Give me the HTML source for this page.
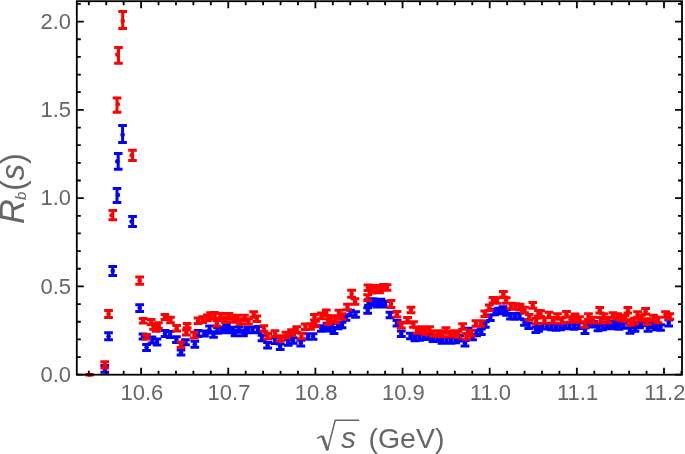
<!DOCTYPE html>
<html><head><meta charset="utf-8"><title>R_b(s)</title>
<style>html,body{margin:0;padding:0;background:#fff;overflow:hidden}svg{display:block}</style></head>
<body><svg width="685" height="454" viewBox="0 0 685 454">
<g fill="#0000ff"><path d="M104.8 365.5V372.3M100.4 365.5H109.1M100.4 372.3H109.1M108.6 332.8V339.7M104.2 332.8H112.9M104.2 339.7H112.9M112.7 266.4V275.4M108.4 266.4H117.0M108.4 275.4H117.0M117.0 188.6V202.5M112.7 188.6H121.3M112.7 202.5H121.3M118.2 153.6V169.3M113.9 153.6H122.5M113.9 169.3H122.5M122.6 125.5V142.6M118.2 125.5H126.9M118.2 142.6H126.9M132.6 216.4V226.6M128.2 216.4H136.9M128.2 226.6H136.9M139.7 304.7V311.6M135.3 304.7H144.0M135.3 311.6H144.0M143.0 334.0V339.0M138.7 334.0H147.3M138.7 339.0H147.3M146.6 344.4V350.4M142.2 344.4H150.9M142.2 350.4H150.9M152.0 337.0V343.0M147.7 337.0H156.3M147.7 343.0H156.3M157.0 339.0V345.0M152.7 339.0H161.3M152.7 345.0H161.3M165.0 330.5V336.5M160.7 330.5H169.3M160.7 336.5H169.3M170.0 331.5V337.5M165.7 331.5H174.3M165.7 337.5H174.3M176.4 336.8V342.4M172.1 336.8H180.8M172.1 342.4H180.8M181.0 350.0V355.0M176.7 350.0H185.3M176.7 355.0H185.3M185.5 339.7V344.7M181.2 339.7H189.8M181.2 344.7H189.8M194.8 341.3V347.3M190.5 341.3H199.2M190.5 347.3H199.2M198.0 330.6V336.6M193.7 330.6H202.3M193.7 336.6H202.3M204.4 331.0V336.0M200.1 331.0H208.8M200.1 336.0H208.8M209.5 326.1V333.1M205.2 326.1H213.8M205.2 333.1H213.8M213.5 331.7V337.3M209.2 331.7H217.8M209.2 337.3H217.8M217.5 327.7V333.3M213.2 327.7H221.8M213.2 333.3H221.8M222.0 327.2V332.8M217.7 327.2H226.3M217.7 332.8H226.3M226.5 324.7V330.3M222.2 324.7H230.8M222.2 330.3H230.8M230.5 327.2V332.8M226.2 327.2H234.8M226.2 332.8H234.8M235.0 330.2V335.8M230.7 330.2H239.3M230.7 335.8H239.3M239.0 326.7V332.3M234.7 326.7H243.3M234.7 332.3H243.3M243.5 330.2V335.8M239.2 330.2H247.8M239.2 335.8H247.8M248.0 327.2V332.8M243.7 327.2H252.3M243.7 332.8H252.3M252.5 327.2V332.8M248.2 327.2H256.9M248.2 332.8H256.9M258.0 326.6V332.2M253.7 326.6H262.4M253.7 332.2H262.4M262.0 335.2V340.8M257.6 335.2H266.4M257.6 340.8H266.4M267.6 342.5V348.1M263.2 342.5H272.0M263.2 348.1H272.0M275.0 338.0V343.6M270.6 338.0H279.4M270.6 343.6H279.4M280.2 344.0V349.6M275.8 344.0H284.6M275.8 349.6H284.6M288.2 339.7V345.3M283.8 339.7H292.6M283.8 345.3H292.6M293.0 337.7V343.3M288.6 337.7H297.4M288.6 343.3H297.4M300.8 340.3V345.9M296.4 340.3H305.2M296.4 345.9H305.2M308.0 333.7V339.3M303.6 333.7H312.4M303.6 339.3H312.4M313.0 333.7V339.3M308.6 333.7H317.4M308.6 339.3H317.4M321.4 325.7V331.3M317.0 325.7H325.8M317.0 331.3H325.8M327.0 323.2V328.8M322.6 323.2H331.4M322.6 328.8H331.4M330.0 325.0V331.0M325.6 325.0H334.4M325.6 331.0H334.4M334.0 327.5V333.5M329.6 327.5H338.4M329.6 333.5H338.4M338.0 323.2V328.8M333.6 323.2H342.4M333.6 328.8H342.4M342.0 322.2V327.8M337.6 322.2H346.4M337.6 327.8H346.4M346.0 314.7V320.3M341.6 314.7H350.4M341.6 320.3H350.4M350.5 310.2V315.8M346.1 310.2H354.9M346.1 315.8H354.9M355.5 311.7V317.3M351.1 311.7H359.9M351.1 317.3H359.9M367.7 307.7V313.3M363.3 307.7H372.1M363.3 313.3H372.1M368.5 299.7V305.3M364.1 299.7H372.9M364.1 305.3H372.9M373.0 298.7V304.3M368.6 298.7H377.4M368.6 304.3H377.4M377.0 301.5V307.1M372.6 301.5H381.4M372.6 307.1H381.4M381.0 299.2V304.8M376.6 299.2H385.4M376.6 304.8H385.4M385.0 301.5V307.1M380.6 301.5H389.4M380.6 307.1H389.4M390.0 312.2V317.8M385.6 312.2H394.4M385.6 317.8H394.4M397.0 320.4V326.0M392.6 320.4H401.4M392.6 326.0H401.4M401.3 331.0V336.6M396.9 331.0H405.7M396.9 336.6H405.7M410.5 333.2V338.8M406.1 333.2H414.9M406.1 338.8H414.9M415.0 335.2V340.8M410.6 335.2H419.4M410.6 340.8H419.4M419.5 334.7V340.3M415.1 334.7H423.9M415.1 340.3H423.9M424.0 333.8V339.4M419.6 333.8H428.4M419.6 339.4H428.4M428.5 333.2V338.8M424.1 333.2H432.9M424.1 338.8H432.9M433.0 336.0V341.6M428.6 336.0H437.4M428.6 341.6H437.4M437.5 335.2V340.8M433.1 335.2H441.9M433.1 340.8H441.9M442.0 337.7V343.3M437.6 337.7H446.4M437.6 343.3H446.4M446.5 337.2V342.8M442.1 337.2H450.9M442.1 342.8H450.9M451.0 337.7V343.3M446.6 337.7H455.4M446.6 343.3H455.4M455.5 337.2V342.8M451.1 337.2H459.9M451.1 342.8H459.9M459.5 335.5V341.1M455.1 335.5H463.9M455.1 341.1H463.9M465.0 340.4V346.0M460.6 340.4H469.4M460.6 346.0H469.4M468.0 328.2V333.8M463.6 328.2H472.4M463.6 333.8H472.4M472.5 334.2V339.8M468.1 334.2H476.9M468.1 339.8H476.9M476.5 330.2V335.8M472.1 330.2H480.9M472.1 335.8H480.9M481.3 328.9V334.5M476.9 328.9H485.7M476.9 334.5H485.7M485.3 321.7V327.3M480.9 321.7H489.7M480.9 327.3H489.7M490.3 315.0V320.6M485.9 315.0H494.7M485.9 320.6H494.7M494.5 309.2V314.8M490.1 309.2H498.9M490.1 314.8H498.9M498.5 308.2V313.8M494.1 308.2H502.9M494.1 313.8H502.9M503.0 306.7V312.3M498.6 306.7H507.4M498.6 312.3H507.4M506.5 309.7V315.3M502.1 309.7H510.9M502.1 315.3H510.9M510.5 313.5V319.1M506.1 313.5H514.9M506.1 319.1H514.9M515.0 313.7V319.3M510.6 313.7H519.4M510.6 319.3H519.4M519.5 313.2V318.8M515.1 313.2H523.9M515.1 318.8H523.9M524.5 319.7V325.3M520.1 319.7H528.9M520.1 325.3H528.9M528.7 322.9V328.5M524.4 322.9H533.1M524.4 328.5H533.1M535.9 326.9V332.5M531.5 326.9H540.2M531.5 332.5H540.2M538.5 325.7V331.3M534.1 325.7H542.9M534.1 331.3H542.9M542.5 323.4V329.0M538.1 323.4H546.9M538.1 329.0H546.9M547.0 323.5V329.1M542.6 323.5H551.4M542.6 329.1H551.4M551.5 324.2V329.8M547.1 324.2H555.9M547.1 329.8H555.9M556.0 324.7V330.3M551.6 324.7H560.4M551.6 330.3H560.4M560.5 324.2V329.8M556.1 324.2H564.9M556.1 329.8H564.9M565.0 322.7V328.3M560.6 322.7H569.4M560.6 328.3H569.4M569.5 323.2V328.8M565.1 323.2H573.9M565.1 328.8H573.9M574.0 323.7V329.3M569.6 323.7H578.4M569.6 329.3H578.4M578.5 322.9V328.5M574.1 322.9H582.9M574.1 328.5H582.9M585.0 327.9V333.5M580.6 327.9H589.4M580.6 333.5H589.4M589.0 321.1V326.7M584.6 321.1H593.4M584.6 326.7H593.4M593.5 321.4V327.0M589.1 321.4H597.9M589.1 327.0H597.9M598.0 325.2V330.8M593.6 325.2H602.4M593.6 330.8H602.4M602.5 324.2V329.8M598.1 324.2H606.9M598.1 329.8H606.9M607.0 322.3V327.9M602.6 322.3H611.4M602.6 327.9H611.4M611.0 323.2V328.8M606.6 323.2H615.4M606.6 328.8H615.4M614.5 321.2V326.8M610.1 321.2H618.9M610.1 326.8H618.9M619.0 323.7V329.3M614.6 323.7H623.4M614.6 329.3H623.4M623.5 322.7V328.3M619.1 322.7H627.9M619.1 328.3H627.9M630.0 327.7V333.3M625.6 327.7H634.4M625.6 333.3H634.4M635.0 325.7V331.3M630.6 325.7H639.4M630.6 331.3H639.4M639.5 322.2V327.8M635.1 322.2H643.9M635.1 327.8H643.9M643.5 320.2V325.8M639.1 320.2H647.9M639.1 325.8H647.9M648.0 325.7V331.3M643.6 325.7H652.4M643.6 331.3H652.4M652.5 322.2V327.8M648.1 322.2H656.9M648.1 327.8H656.9M656.5 324.2V329.8M652.1 324.2H660.9M652.1 329.8H660.9M660.5 324.7V330.3M656.1 324.7H664.9M656.1 330.3H664.9M668.7 320.1V325.9M664.4 320.1H673.1M664.4 325.9H673.1" stroke="#0000ff" stroke-width="3" fill="none"/><circle cx="104.8" cy="368.9" r="2.3"/><circle cx="108.6" cy="336.2" r="2.3"/><circle cx="112.7" cy="270.9" r="2.3"/><circle cx="117.9" cy="195.1" r="2.3"/><circle cx="117.3" cy="161.4" r="2.3"/><circle cx="122.6" cy="134.7" r="2.3"/><circle cx="131.6" cy="221.5" r="2.3"/><circle cx="139.7" cy="308.1" r="2.3"/><circle cx="143.0" cy="336.5" r="2.3"/><circle cx="146.6" cy="347.4" r="2.3"/><circle cx="152.0" cy="340.0" r="2.3"/><circle cx="157.0" cy="342.0" r="2.3"/><circle cx="165.0" cy="333.5" r="2.3"/><circle cx="170.0" cy="334.5" r="2.3"/><circle cx="176.4" cy="339.6" r="2.3"/><circle cx="181.0" cy="352.5" r="2.3"/><circle cx="185.5" cy="342.2" r="2.3"/><circle cx="194.8" cy="344.3" r="2.3"/><circle cx="198.0" cy="333.6" r="2.3"/><circle cx="204.4" cy="333.5" r="2.3"/><circle cx="209.5" cy="329.6" r="2.3"/><circle cx="213.5" cy="334.5" r="2.3"/><circle cx="217.5" cy="330.5" r="2.3"/><circle cx="222.0" cy="330.0" r="2.3"/><circle cx="226.5" cy="327.5" r="2.3"/><circle cx="230.5" cy="330.0" r="2.3"/><circle cx="235.0" cy="333.0" r="2.3"/><circle cx="239.0" cy="329.5" r="2.3"/><circle cx="243.5" cy="333.0" r="2.3"/><circle cx="248.0" cy="330.0" r="2.3"/><circle cx="252.5" cy="330.0" r="2.3"/><circle cx="258.0" cy="329.4" r="2.3"/><circle cx="262.0" cy="338.0" r="2.3"/><circle cx="267.6" cy="345.3" r="2.3"/><circle cx="275.0" cy="340.8" r="2.3"/><circle cx="280.2" cy="346.8" r="2.3"/><circle cx="288.2" cy="342.5" r="2.3"/><circle cx="293.0" cy="340.5" r="2.3"/><circle cx="300.8" cy="343.1" r="2.3"/><circle cx="308.0" cy="336.5" r="2.3"/><circle cx="313.0" cy="336.5" r="2.3"/><circle cx="321.4" cy="328.5" r="2.3"/><circle cx="327.0" cy="326.0" r="2.3"/><circle cx="330.0" cy="328.0" r="2.3"/><circle cx="334.0" cy="330.5" r="2.3"/><circle cx="338.0" cy="326.0" r="2.3"/><circle cx="342.0" cy="325.0" r="2.3"/><circle cx="346.0" cy="317.5" r="2.3"/><circle cx="350.5" cy="313.0" r="2.3"/><circle cx="355.5" cy="314.5" r="2.3"/><circle cx="367.7" cy="310.5" r="2.3"/><circle cx="368.5" cy="302.5" r="2.3"/><circle cx="373.0" cy="301.5" r="2.3"/><circle cx="377.0" cy="304.3" r="2.3"/><circle cx="381.0" cy="302.0" r="2.3"/><circle cx="385.0" cy="304.3" r="2.3"/><circle cx="390.0" cy="315.0" r="2.3"/><circle cx="397.0" cy="323.2" r="2.3"/><circle cx="401.3" cy="333.8" r="2.3"/><circle cx="410.5" cy="336.0" r="2.3"/><circle cx="415.0" cy="338.0" r="2.3"/><circle cx="419.5" cy="337.5" r="2.3"/><circle cx="424.0" cy="336.6" r="2.3"/><circle cx="428.5" cy="336.0" r="2.3"/><circle cx="433.0" cy="338.8" r="2.3"/><circle cx="437.5" cy="338.0" r="2.3"/><circle cx="442.0" cy="340.5" r="2.3"/><circle cx="446.5" cy="340.0" r="2.3"/><circle cx="451.0" cy="340.5" r="2.3"/><circle cx="455.5" cy="340.0" r="2.3"/><circle cx="459.5" cy="338.3" r="2.3"/><circle cx="465.0" cy="343.2" r="2.3"/><circle cx="468.0" cy="331.0" r="2.3"/><circle cx="472.5" cy="337.0" r="2.3"/><circle cx="476.5" cy="333.0" r="2.3"/><circle cx="481.3" cy="331.7" r="2.3"/><circle cx="485.3" cy="324.5" r="2.3"/><circle cx="490.3" cy="317.8" r="2.3"/><circle cx="494.5" cy="312.0" r="2.3"/><circle cx="498.5" cy="311.0" r="2.3"/><circle cx="503.0" cy="309.5" r="2.3"/><circle cx="506.5" cy="312.5" r="2.3"/><circle cx="510.5" cy="316.3" r="2.3"/><circle cx="515.0" cy="316.5" r="2.3"/><circle cx="519.5" cy="316.0" r="2.3"/><circle cx="524.5" cy="322.5" r="2.3"/><circle cx="528.7" cy="325.7" r="2.3"/><circle cx="535.9" cy="329.7" r="2.3"/><circle cx="538.5" cy="328.5" r="2.3"/><circle cx="542.5" cy="326.2" r="2.3"/><circle cx="547.0" cy="326.3" r="2.3"/><circle cx="551.5" cy="327.0" r="2.3"/><circle cx="556.0" cy="327.5" r="2.3"/><circle cx="560.5" cy="327.0" r="2.3"/><circle cx="565.0" cy="325.5" r="2.3"/><circle cx="569.5" cy="326.0" r="2.3"/><circle cx="574.0" cy="326.5" r="2.3"/><circle cx="578.5" cy="325.7" r="2.3"/><circle cx="585.0" cy="330.7" r="2.3"/><circle cx="589.0" cy="323.9" r="2.3"/><circle cx="593.5" cy="324.2" r="2.3"/><circle cx="598.0" cy="328.0" r="2.3"/><circle cx="602.5" cy="327.0" r="2.3"/><circle cx="607.0" cy="325.1" r="2.3"/><circle cx="611.0" cy="326.0" r="2.3"/><circle cx="614.5" cy="324.0" r="2.3"/><circle cx="619.0" cy="326.5" r="2.3"/><circle cx="623.5" cy="325.5" r="2.3"/><circle cx="630.0" cy="330.5" r="2.3"/><circle cx="635.0" cy="328.5" r="2.3"/><circle cx="639.5" cy="325.0" r="2.3"/><circle cx="643.5" cy="323.0" r="2.3"/><circle cx="648.0" cy="328.5" r="2.3"/><circle cx="652.5" cy="325.0" r="2.3"/><circle cx="656.5" cy="327.0" r="2.3"/><circle cx="660.5" cy="327.5" r="2.3"/><circle cx="668.7" cy="323.0" r="2.3"/></g>
<g fill="#ff0000"><path d="M89.5 374.5V375.1M85.2 374.5H93.8M85.2 375.1H93.8M104.8 361.8V368.0M100.4 361.8H109.1M100.4 368.0H109.1M108.6 310.5V317.4M104.2 310.5H112.9M104.2 317.4H112.9M112.8 210.6V219.8M108.5 210.6H117.1M108.5 219.8H117.1M117.0 98.1V112.3M112.7 98.1H121.4M112.7 112.3H121.4M118.5 47.5V63.3M114.2 47.5H122.8M114.2 63.3H122.8M122.7 11.4V28.5M118.3 11.4H127.0M118.3 28.5H127.0M132.5 150.2V160.4M128.2 150.2H136.8M128.2 160.4H136.8M139.7 277.1V284.3M135.3 277.1H144.0M135.3 284.3H144.0M143.2 318.5V323.1M138.8 318.5H147.5M138.8 323.1H147.5M146.6 334.4V339.0M142.2 334.4H150.9M142.2 339.0H150.9M151.2 319.5V324.5M146.8 319.5H155.5M146.8 324.5H155.5M153.5 323.7V329.3M149.2 323.7H157.8M149.2 329.3H157.8M156.3 325.7V331.3M152.0 325.7H160.7M152.0 331.3H160.7M158.5 322.7V328.3M154.2 322.7H162.8M154.2 328.3H162.8M164.9 314.5V319.5M160.6 314.5H169.2M160.6 319.5H169.2M170.5 317.2V322.8M166.2 317.2H174.8M166.2 322.8H174.8M176.7 325.4V331.0M172.3 325.4H181.0M172.3 331.0H181.0M181.0 342.0V347.6M176.7 342.0H185.3M176.7 347.6H185.3M186.3 330.0V335.0M182.0 330.0H190.7M182.0 335.0H190.7M187.2 323.4V327.8M182.8 323.4H191.5M182.8 327.8H191.5M194.4 332.3V337.9M190.1 332.3H198.8M190.1 337.9H198.8M198.0 318.0V323.6M193.7 318.0H202.3M193.7 323.6H202.3M202.7 316.8V322.4M198.3 316.8H207.0M198.3 322.4H207.0M207.3 315.1V320.7M203.0 315.1H211.7M203.0 320.7H211.7M210.5 312.8V318.4M206.2 312.8H214.8M206.2 318.4H214.8M214.5 312.5V318.1M210.2 312.5H218.8M210.2 318.1H218.8M216.8 320.5V326.1M212.5 320.5H221.2M212.5 326.1H221.2M220.5 313.5V319.1M216.2 313.5H224.8M216.2 319.1H224.8M225.0 316.7V322.3M220.7 316.7H229.3M220.7 322.3H229.3M229.0 313.5V319.1M224.7 313.5H233.3M224.7 319.1H233.3M233.5 316.7V322.3M229.2 316.7H237.8M229.2 322.3H237.8M237.0 315.2V320.8M232.7 315.2H241.3M232.7 320.8H241.3M240.5 318.7V324.3M236.2 318.7H244.8M236.2 324.3H244.8M244.5 315.2V320.8M240.2 315.2H248.8M240.2 320.8H248.8M248.5 318.7V324.3M244.2 318.7H252.8M244.2 324.3H252.8M253.7 311.7V317.3M249.3 311.7H258.1M249.3 317.3H258.1M256.8 316.0V321.6M252.5 316.0H261.2M252.5 321.6H261.2M263.9 325.7V331.3M259.5 325.7H268.2M259.5 331.3H268.2M267.6 333.4V339.0M263.2 333.4H272.0M263.2 339.0H272.0M275.0 330.8V336.4M270.6 330.8H279.4M270.6 336.4H279.4M280.2 335.7V341.3M275.8 335.7H284.6M275.8 341.3H284.6M286.0 332.3V337.9M281.6 332.3H290.4M281.6 337.9H290.4M291.6 329.7V335.3M287.2 329.7H296.0M287.2 335.3H296.0M296.8 326.8V332.4M292.4 326.8H301.2M292.4 332.4H301.2M301.4 333.2V338.8M297.0 333.2H305.8M297.0 338.8H305.8M305.4 324.0V329.6M301.0 324.0H309.8M301.0 329.6H309.8M310.5 323.7V329.3M306.1 323.7H314.9M306.1 329.3H314.9M314.5 314.5V320.1M310.1 314.5H318.9M310.1 320.1H318.9M315.5 321.2V326.8M311.1 321.2H319.9M311.1 326.8H319.9M321.4 313.1V318.7M317.0 313.1H325.8M317.0 318.7H325.8M326.3 310.0V315.6M321.9 310.0H330.7M321.9 315.6H330.7M328.0 318.7V324.3M323.6 318.7H332.4M323.6 324.3H332.4M331.0 315.7V321.3M326.6 315.7H335.4M326.6 321.3H335.4M335.5 317.2V322.8M331.1 317.2H339.9M331.1 322.8H339.9M339.0 310.2V315.8M334.6 310.2H343.4M334.6 315.8H343.4M342.0 313.7V319.3M337.6 313.7H346.4M337.6 319.3H346.4M347.5 304.2V309.8M343.1 304.2H351.9M343.1 309.8H351.9M351.6 290.2V297.2M347.2 290.2H356.0M347.2 297.2H356.0M355.0 298.7V304.3M350.6 298.7H359.4M350.6 304.3H359.4M367.7 294.7V300.5M363.3 294.7H372.1M363.3 300.5H372.1M368.0 285.0V290.6M363.6 285.0H372.4M363.6 290.6H372.4M372.0 287.5V293.1M367.6 287.5H376.4M367.6 293.1H376.4M376.5 285.4V291.0M372.1 285.4H380.9M372.1 291.0H380.9M379.5 287.2V292.8M375.1 287.2H383.9M375.1 292.8H383.9M383.5 284.5V290.1M379.1 284.5H387.9M379.1 290.1H387.9M387.0 284.7V290.3M382.6 284.7H391.4M382.6 290.3H391.4M391.0 300.4V307.4M386.6 300.4H395.4M386.6 307.4H395.4M397.0 311.5V317.1M392.6 311.5H401.4M392.6 317.1H401.4M401.3 322.3V327.9M396.9 322.3H405.7M396.9 327.9H405.7M407.6 317.5V323.1M403.2 317.5H412.0M403.2 323.1H412.0M411.0 307.2V312.8M406.6 307.2H415.4M406.6 312.8H415.4M413.5 321.7V327.3M409.1 321.7H417.9M409.1 327.3H417.9M417.0 327.7V333.3M412.6 327.7H421.4M412.6 333.3H421.4M421.0 326.7V332.3M416.6 326.7H425.4M416.6 332.3H425.4M425.0 328.7V334.3M420.6 328.7H429.4M420.6 334.3H429.4M429.5 326.7V332.3M425.1 326.7H433.9M425.1 332.3H433.9M433.5 330.7V336.3M429.1 330.7H437.9M429.1 336.3H437.9M438.0 330.7V336.3M433.6 330.7H442.4M433.6 336.3H442.4M442.0 331.2V336.8M437.6 331.2H446.4M437.6 336.8H446.4M446.0 327.7V333.3M441.6 327.7H450.4M441.6 333.3H450.4M450.5 331.2V336.8M446.1 331.2H454.9M446.1 336.8H454.9M454.5 330.7V336.3M450.1 330.7H458.9M450.1 336.3H458.9M458.0 331.7V337.3M453.6 331.7H462.4M453.6 337.3H462.4M462.6 323.7V329.3M458.2 323.7H467.0M458.2 329.3H467.0M466.5 333.7V339.3M462.1 333.7H470.9M462.1 339.3H470.9M471.0 330.5V336.1M466.6 330.5H475.4M466.6 336.1H475.4M476.0 320.7V326.3M471.6 320.7H480.4M471.6 326.3H480.4M481.0 320.7V326.3M476.6 320.7H485.4M476.6 326.3H485.4M484.8 310.9V316.5M480.4 310.9H489.2M480.4 316.5H489.2M489.3 304.9V310.5M484.9 304.9H493.7M484.9 310.5H493.7M493.0 297.5V303.1M488.6 297.5H497.4M488.6 303.1H497.4M497.0 297.7V303.3M492.6 297.7H501.4M492.6 303.3H501.4M503.4 291.5V297.1M499.0 291.5H507.8M499.0 297.1H507.8M506.2 297.7V303.3M501.8 297.7H510.6M501.8 303.3H510.6M511.0 303.2V308.8M506.6 303.2H515.4M506.6 308.8H515.4M515.5 303.7V309.3M511.1 303.7H519.9M511.1 309.3H519.9M520.0 304.2V309.8M515.6 304.2H524.4M515.6 309.8H524.4M524.5 307.2V312.8M520.1 307.2H528.9M520.1 312.8H528.9M529.3 314.5V320.1M524.9 314.5H533.6M524.9 320.1H533.6M532.7 302.6V308.2M528.4 302.6H537.1M528.4 308.2H537.1M536.2 318.2V323.8M531.9 318.2H540.6M531.9 323.8H540.6M538.5 310.5V316.1M534.1 310.5H542.9M534.1 316.1H542.9M540.5 310.8V316.4M536.1 310.8H544.9M536.1 316.4H544.9M544.5 317.7V323.3M540.1 317.7H548.9M540.1 323.3H548.9M549.0 312.2V317.8M544.6 312.2H553.4M544.6 317.8H553.4M553.0 317.5V323.1M548.6 317.5H557.4M548.6 323.1H557.4M557.5 313.7V319.3M553.1 313.7H561.9M553.1 319.3H561.9M562.0 317.7V323.3M557.6 317.7H566.4M557.6 323.3H566.4M566.5 311.4V317.0M562.1 311.4H570.9M562.1 317.0H570.9M570.5 316.7V322.3M566.1 316.7H574.9M566.1 322.3H574.9M575.0 314.0V319.6M570.6 314.0H579.4M570.6 319.6H579.4M579.5 316.7V322.3M575.1 316.7H583.9M575.1 322.3H583.9M584.8 321.7V327.3M580.4 321.7H589.1M580.4 327.3H589.1M588.5 313.7V319.3M584.1 313.7H592.9M584.1 319.3H592.9M593.0 317.2V322.8M588.6 317.2H597.4M588.6 322.8H597.4M599.7 307.4V313.0M595.4 307.4H604.1M595.4 313.0H604.1M600.8 317.5V323.1M596.4 317.5H605.1M596.4 323.1H605.1M603.5 313.7V319.3M599.1 313.7H607.9M599.1 319.3H607.9M608.0 317.2V322.8M603.6 317.2H612.4M603.6 322.8H612.4M613.0 312.7V318.3M608.6 312.7H617.4M608.6 318.3H617.4M617.5 313.7V319.3M613.1 313.7H621.9M613.1 319.3H621.9M621.0 315.2V320.8M616.6 315.2H625.4M616.6 320.8H625.4M625.0 315.7V321.3M620.6 315.7H629.4M620.6 321.3H629.4M627.9 307.4V313.0M623.5 307.4H632.2M623.5 313.0H632.2M630.5 319.7V325.3M626.1 319.7H634.9M626.1 325.3H634.9M634.5 318.2V323.8M630.1 318.2H638.9M630.1 323.8H638.9M637.6 311.7V317.3M633.2 311.7H642.0M633.2 317.3H642.0M645.6 308.5V314.1M641.2 308.5H650.0M641.2 314.1H650.0M647.4 318.8V324.4M643.0 318.8H651.8M643.0 324.4H651.8M641.5 315.2V320.8M637.1 315.2H645.9M637.1 320.8H645.9M653.5 315.2V320.8M649.1 315.2H657.9M649.1 320.8H657.9M658.0 317.2V322.8M653.6 317.2H662.4M653.6 322.8H662.4M665.6 311.7V317.3M661.2 311.7H670.0M661.2 317.3H670.0M669.7 313.7V319.3M665.4 313.7H674.1M665.4 319.3H674.1" stroke="#ff0000" stroke-width="3" fill="none"/><circle cx="89.5" cy="374.8" r="2.3"/><circle cx="104.8" cy="364.9" r="2.3"/><circle cx="108.6" cy="313.9" r="2.3"/><circle cx="111.6" cy="215.2" r="2.3"/><circle cx="117.8" cy="104.3" r="2.3"/><circle cx="117.4" cy="54.6" r="2.3"/><circle cx="122.7" cy="20.9" r="2.3"/><circle cx="131.7" cy="155.3" r="2.3"/><circle cx="139.7" cy="280.7" r="2.3"/><circle cx="143.2" cy="320.8" r="2.3"/><circle cx="146.6" cy="336.7" r="2.3"/><circle cx="151.2" cy="322.0" r="2.3"/><circle cx="153.5" cy="326.5" r="2.3"/><circle cx="156.3" cy="328.5" r="2.3"/><circle cx="158.5" cy="325.5" r="2.3"/><circle cx="164.9" cy="317.0" r="2.3"/><circle cx="170.5" cy="320.0" r="2.3"/><circle cx="176.7" cy="328.2" r="2.3"/><circle cx="181.0" cy="344.8" r="2.3"/><circle cx="186.3" cy="332.5" r="2.3"/><circle cx="187.2" cy="325.6" r="2.3"/><circle cx="194.4" cy="335.1" r="2.3"/><circle cx="198.0" cy="320.8" r="2.3"/><circle cx="202.7" cy="319.6" r="2.3"/><circle cx="207.3" cy="317.9" r="2.3"/><circle cx="210.5" cy="315.6" r="2.3"/><circle cx="214.5" cy="315.3" r="2.3"/><circle cx="216.8" cy="323.3" r="2.3"/><circle cx="220.5" cy="316.3" r="2.3"/><circle cx="225.0" cy="319.5" r="2.3"/><circle cx="229.0" cy="316.3" r="2.3"/><circle cx="233.5" cy="319.5" r="2.3"/><circle cx="237.0" cy="318.0" r="2.3"/><circle cx="240.5" cy="321.5" r="2.3"/><circle cx="244.5" cy="318.0" r="2.3"/><circle cx="248.5" cy="321.5" r="2.3"/><circle cx="253.7" cy="314.5" r="2.3"/><circle cx="256.8" cy="318.8" r="2.3"/><circle cx="263.9" cy="328.5" r="2.3"/><circle cx="267.6" cy="336.2" r="2.3"/><circle cx="275.0" cy="333.6" r="2.3"/><circle cx="280.2" cy="338.5" r="2.3"/><circle cx="286.0" cy="335.1" r="2.3"/><circle cx="291.6" cy="332.5" r="2.3"/><circle cx="296.8" cy="329.6" r="2.3"/><circle cx="301.4" cy="336.0" r="2.3"/><circle cx="305.4" cy="326.8" r="2.3"/><circle cx="310.5" cy="326.5" r="2.3"/><circle cx="314.5" cy="317.3" r="2.3"/><circle cx="315.5" cy="324.0" r="2.3"/><circle cx="321.4" cy="315.9" r="2.3"/><circle cx="326.3" cy="312.8" r="2.3"/><circle cx="328.0" cy="321.5" r="2.3"/><circle cx="331.0" cy="318.5" r="2.3"/><circle cx="335.5" cy="320.0" r="2.3"/><circle cx="339.0" cy="313.0" r="2.3"/><circle cx="342.0" cy="316.5" r="2.3"/><circle cx="347.5" cy="307.0" r="2.3"/><circle cx="351.6" cy="293.7" r="2.3"/><circle cx="355.0" cy="301.5" r="2.3"/><circle cx="367.7" cy="297.6" r="2.3"/><circle cx="368.0" cy="287.8" r="2.3"/><circle cx="372.0" cy="290.3" r="2.3"/><circle cx="376.5" cy="288.2" r="2.3"/><circle cx="379.5" cy="290.0" r="2.3"/><circle cx="383.5" cy="287.3" r="2.3"/><circle cx="387.0" cy="287.5" r="2.3"/><circle cx="391.0" cy="303.9" r="2.3"/><circle cx="397.0" cy="314.3" r="2.3"/><circle cx="401.3" cy="325.1" r="2.3"/><circle cx="407.6" cy="320.3" r="2.3"/><circle cx="411.0" cy="310.0" r="2.3"/><circle cx="413.5" cy="324.5" r="2.3"/><circle cx="417.0" cy="330.5" r="2.3"/><circle cx="421.0" cy="329.5" r="2.3"/><circle cx="425.0" cy="331.5" r="2.3"/><circle cx="429.5" cy="329.5" r="2.3"/><circle cx="433.5" cy="333.5" r="2.3"/><circle cx="438.0" cy="333.5" r="2.3"/><circle cx="442.0" cy="334.0" r="2.3"/><circle cx="446.0" cy="330.5" r="2.3"/><circle cx="450.5" cy="334.0" r="2.3"/><circle cx="454.5" cy="333.5" r="2.3"/><circle cx="458.0" cy="334.5" r="2.3"/><circle cx="462.6" cy="326.5" r="2.3"/><circle cx="466.5" cy="336.5" r="2.3"/><circle cx="471.0" cy="333.3" r="2.3"/><circle cx="476.0" cy="323.5" r="2.3"/><circle cx="481.0" cy="323.5" r="2.3"/><circle cx="484.8" cy="313.7" r="2.3"/><circle cx="489.3" cy="307.7" r="2.3"/><circle cx="493.0" cy="300.3" r="2.3"/><circle cx="497.0" cy="300.5" r="2.3"/><circle cx="503.4" cy="294.3" r="2.3"/><circle cx="506.2" cy="300.5" r="2.3"/><circle cx="511.0" cy="306.0" r="2.3"/><circle cx="515.5" cy="306.5" r="2.3"/><circle cx="520.0" cy="307.0" r="2.3"/><circle cx="524.5" cy="310.0" r="2.3"/><circle cx="529.3" cy="317.3" r="2.3"/><circle cx="532.7" cy="305.4" r="2.3"/><circle cx="536.2" cy="321.0" r="2.3"/><circle cx="538.5" cy="313.3" r="2.3"/><circle cx="540.5" cy="313.6" r="2.3"/><circle cx="544.5" cy="320.5" r="2.3"/><circle cx="549.0" cy="315.0" r="2.3"/><circle cx="553.0" cy="320.3" r="2.3"/><circle cx="557.5" cy="316.5" r="2.3"/><circle cx="562.0" cy="320.5" r="2.3"/><circle cx="566.5" cy="314.2" r="2.3"/><circle cx="570.5" cy="319.5" r="2.3"/><circle cx="575.0" cy="316.8" r="2.3"/><circle cx="579.5" cy="319.5" r="2.3"/><circle cx="584.8" cy="324.5" r="2.3"/><circle cx="588.5" cy="316.5" r="2.3"/><circle cx="593.0" cy="320.0" r="2.3"/><circle cx="599.7" cy="310.2" r="2.3"/><circle cx="600.8" cy="320.3" r="2.3"/><circle cx="603.5" cy="316.5" r="2.3"/><circle cx="608.0" cy="320.0" r="2.3"/><circle cx="613.0" cy="315.5" r="2.3"/><circle cx="617.5" cy="316.5" r="2.3"/><circle cx="621.0" cy="318.0" r="2.3"/><circle cx="625.0" cy="318.5" r="2.3"/><circle cx="627.9" cy="310.2" r="2.3"/><circle cx="630.5" cy="322.5" r="2.3"/><circle cx="634.5" cy="321.0" r="2.3"/><circle cx="637.6" cy="314.5" r="2.3"/><circle cx="645.6" cy="311.3" r="2.3"/><circle cx="647.4" cy="321.6" r="2.3"/><circle cx="641.5" cy="318.0" r="2.3"/><circle cx="653.5" cy="318.0" r="2.3"/><circle cx="658.0" cy="320.0" r="2.3"/><circle cx="665.6" cy="314.5" r="2.3"/><circle cx="669.7" cy="316.5" r="2.3"/></g>
<rect x="76.8" y="1.2" width="605.20" height="373.50" fill="none" stroke="#000" stroke-width="1.8"/>
<path d="M88.81 374.70V370.70M88.81 1.20V5.20M106.24 374.70V370.70M106.24 1.20V5.20M123.67 374.70V370.70M123.67 1.20V5.20M141.10 374.70V367.70M141.10 1.20V8.20M158.53 374.70V370.70M158.53 1.20V5.20M175.96 374.70V370.70M175.96 1.20V5.20M193.39 374.70V370.70M193.39 1.20V5.20M210.82 374.70V370.70M210.82 1.20V5.20M228.25 374.70V367.70M228.25 1.20V8.20M245.68 374.70V370.70M245.68 1.20V5.20M263.11 374.70V370.70M263.11 1.20V5.20M280.54 374.70V370.70M280.54 1.20V5.20M297.97 374.70V370.70M297.97 1.20V5.20M315.40 374.70V367.70M315.40 1.20V8.20M332.83 374.70V370.70M332.83 1.20V5.20M350.26 374.70V370.70M350.26 1.20V5.20M367.69 374.70V370.70M367.69 1.20V5.20M385.12 374.70V370.70M385.12 1.20V5.20M402.55 374.70V367.70M402.55 1.20V8.20M419.98 374.70V370.70M419.98 1.20V5.20M437.41 374.70V370.70M437.41 1.20V5.20M454.84 374.70V370.70M454.84 1.20V5.20M472.27 374.70V370.70M472.27 1.20V5.20M489.70 374.70V367.70M489.70 1.20V8.20M507.13 374.70V370.70M507.13 1.20V5.20M524.56 374.70V370.70M524.56 1.20V5.20M541.99 374.70V370.70M541.99 1.20V5.20M559.42 374.70V370.70M559.42 1.20V5.20M576.85 374.70V367.70M576.85 1.20V8.20M594.28 374.70V370.70M594.28 1.20V5.20M611.71 374.70V370.70M611.71 1.20V5.20M629.14 374.70V370.70M629.14 1.20V5.20M646.57 374.70V370.70M646.57 1.20V5.20M664.00 374.70V367.70M664.00 1.20V8.20M681.43 374.70V370.70M681.43 1.20V5.20M76.80 374.70H83.80M682.00 374.70H675.00M76.80 357.04H80.80M682.00 357.04H678.00M76.80 339.39H80.80M682.00 339.39H678.00M76.80 321.74H80.80M682.00 321.74H678.00M76.80 304.08H80.80M682.00 304.08H678.00M76.80 286.42H83.80M682.00 286.42H675.00M76.80 268.77H80.80M682.00 268.77H678.00M76.80 251.12H80.80M682.00 251.12H678.00M76.80 233.46H80.80M682.00 233.46H678.00M76.80 215.80H80.80M682.00 215.80H678.00M76.80 198.15H83.80M682.00 198.15H675.00M76.80 180.49H80.80M682.00 180.49H678.00M76.80 162.84H80.80M682.00 162.84H678.00M76.80 145.18H80.80M682.00 145.18H678.00M76.80 127.53H80.80M682.00 127.53H678.00M76.80 109.87H83.80M682.00 109.87H675.00M76.80 92.22H80.80M682.00 92.22H678.00M76.80 74.56H80.80M682.00 74.56H678.00M76.80 56.91H80.80M682.00 56.91H678.00M76.80 39.25H80.80M682.00 39.25H678.00M76.80 21.60H83.80M682.00 21.60H675.00M76.80 3.94H80.80M682.00 3.94H678.00" stroke="#000" stroke-width="1.8" fill="none"/>
<g font-family="Liberation Sans, sans-serif" font-size="22" fill="#666"><text x="71.1" y="381.9" text-anchor="end">0.0</text><text x="71.1" y="293.6" text-anchor="end">0.5</text><text x="71.1" y="205.3" text-anchor="end">1.0</text><text x="71.1" y="117.1" text-anchor="end">1.5</text><text x="71.1" y="28.8" text-anchor="end">2.0</text><text x="141.9" y="400.2" text-anchor="middle">10.6</text><text x="229.0" y="400.2" text-anchor="middle">10.7</text><text x="316.2" y="400.2" text-anchor="middle">10.8</text><text x="403.4" y="400.2" text-anchor="middle">10.9</text><text x="490.5" y="400.2" text-anchor="middle">11.0</text><text x="577.6" y="400.2" text-anchor="middle">11.1</text><text x="664.8" y="400.2" text-anchor="middle">11.2</text></g>
<g fill="#666" font-family="Liberation Sans, sans-serif"><path d="M317.3 438.4 L322.2 435.8" stroke="#666" stroke-width="1.6" fill="none"/><path d="M322.4 435.9 L327.6 450.2" stroke="#666" stroke-width="2.8" fill="none"/><path d="M327.4 450.6 L335.2 420.3 H359.2" stroke="#666" stroke-width="1.5" fill="none"/><text x="341" y="447.8" font-size="30" font-style="italic">s</text><text x="368.4" y="448" font-size="28.5">(GeV)</text></g>
<g fill="#666" font-family="Liberation Sans, sans-serif" transform="translate(23.6,223) rotate(-90)"><text font-size="32.5"><tspan x="-1" font-size="34.5" font-style="italic">R</tspan><tspan x="23" y="2.6" font-size="15" font-style="italic">b</tspan><tspan x="31.9" y="0">(</tspan><tspan font-style="italic">s</tspan><tspan>)</tspan></text></g>
</svg></body></html>
